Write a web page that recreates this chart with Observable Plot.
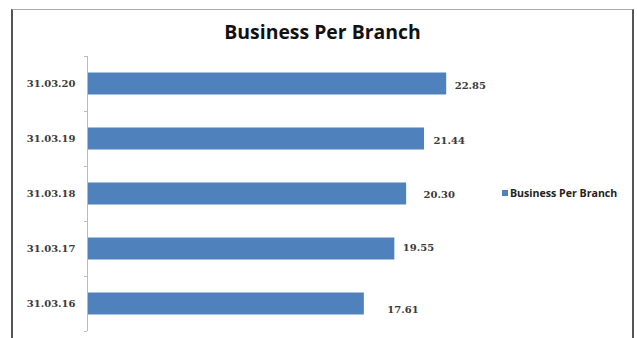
<!DOCTYPE html>
<html>
<head>
<meta charset="utf-8">
<script src="https://cdn.jsdelivr.net/npm/d3@7"></script>
<script src="https://cdn.jsdelivr.net/npm/@observablehq/plot@0.6"></script>
<style>
  body { margin: 0; background: #fff; }
  #chart { position: relative; width: 637px; height: 338px; overflow: hidden; background: #fff; }
  #chart svg { position: absolute; left: 0; top: 0; }
  #frame { position: absolute; left: 11px; top: 9px; width: 619px; height: 340px;
           border-left: 2px solid #555; border-right: 2px solid #555; border-top: 1px solid #aaa;
           pointer-events: none; }
  #title { position: absolute; left: 4px; width: 637px; top: 18px; line-height: 19px;
           text-align: center; font: bold 19.4px 'Open Sans', sans-serif; color: #111; }
  #legend { position: absolute; left: 502px; top: 186px; height: 14px; display: flex; align-items: center;
            font: bold 10.6px 'Open Sans', sans-serif; color: #222; white-space: nowrap; }
  #legend .sw { width: 6px; height: 6px; background: #4F81BD; margin-right: 2px; }
</style>
</head>
<body>
<div id="chart">
  <div id="title">Business Per Branch</div>
  <div id="legend"><span class="sw"></span><span>Business Per Branch</span></div>
  <div id="frame"></div>
</div>
<script>
// Business per branch (₹ crore) as at 31 March of each year
const dates  = ["31.03.20", "31.03.19", "31.03.18", "31.03.17", "31.03.16"];
const values = [22.85, 21.44, 20.30, 19.55, 17.61];
const seriesName = "Business Per Branch";

const rows = dates.map((d, i) => ({date: d, value: values[i]}));

// hand-placed data labels: [dx, dy] in pixels
const labelNudge = {
  "31.03.20": [8, 2],
  "31.03.19": [9, 2],
  "31.03.18": [17, 1],
  "31.03.17": [8, -1],
  "31.03.16": [23, 6]
};

const blue = "#4F81BD";
const serif = "'DejaVu Serif', serif";
const halfBand = 27.5;

const plot = Plot.plot({
  width: 637,
  height: 338,
  marginTop: 56,
  marginBottom: 7,
  marginLeft: 87,
  marginRight: 157,
  x: {domain: [0, 25], axis: null},
  y: {domain: dates, padding: 0, axis: null, label: null},
  style: {background: "transparent", overflow: "visible"},
  marks: [
    Plot.barX(rows, {x: "value", y: "date", fill: blue, insetTop: 16.5, insetBottom: 16.5}),
    // category labels
    Plot.axisY({label: null, tickSize: 0, tickPadding: 12, fontFamily: serif, fontSize: 10, fontWeight: "bold", fill: "#3a3a3a"}),
    // tick marks sit on the boundaries between categories
    Plot.axisY({label: null, text: null, tickSize: 3, dy: halfBand, stroke: "#bbb"}),
    Plot.axisY({label: null, ticks: [dates[0]], text: null, tickSize: 3, dy: -halfBand, stroke: "#bbb"}),
    Plot.ruleX([0], {stroke: "#bbb"}),
    ...rows.map(r => Plot.text([r], {
      x: "value", y: "date", text: d => d.value.toFixed(2),
      textAnchor: "start", dx: labelNudge[r.date][0], dy: labelNudge[r.date][1],
      fontFamily: serif, fontSize: 10, fontWeight: "bold", fill: "#3a3a3a"
    }))
  ]
});

document.getElementById("chart").prepend(plot);
</script>
</body>
</html>
